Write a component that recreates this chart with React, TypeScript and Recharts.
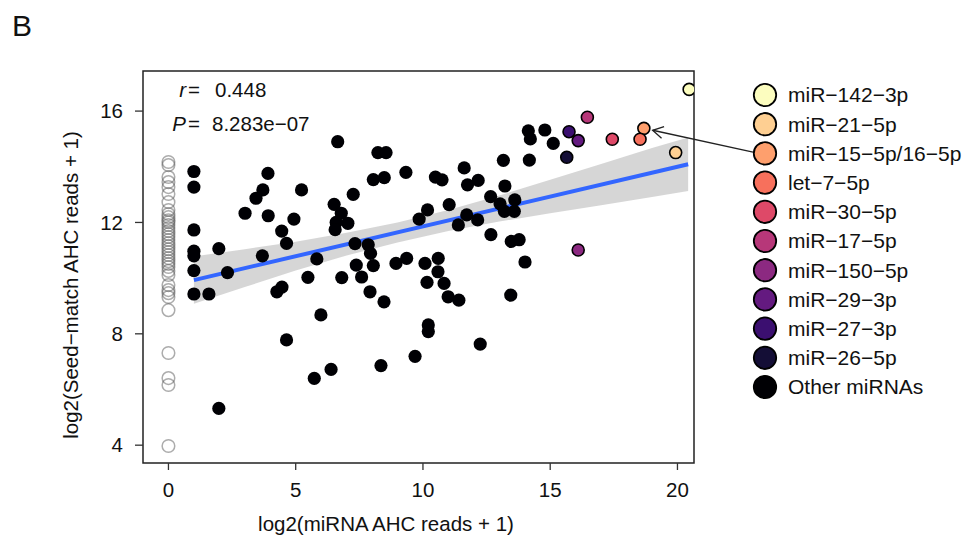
import {
  Area,
  ComposedChart,
  Line,
  ReferenceArea,
  ReferenceLine,
  Scatter,
  XAxis,
  YAxis,
} from 'recharts'

const FONT = '"Liberation Sans", Arial, Helvetica, sans-serif'

// miRNAs with no AHC reads (x = 0), drawn as hollow grey circles
const zeroReadsY = [
  14.17, 14.06, 13.63, 13.45, 13.27, 13.02, 12.73, 12.45, 12.3, 12.19, 12.08,
  12.01, 11.91, 11.8, 11.69, 11.58, 11.48, 11.37, 11.26, 11.15, 11.04, 10.94,
  10.83, 10.72, 10.61, 10.51, 10.4, 10.26, 10.11, 9.75, 9.57, 9.46, 9.32, 8.85,
  7.31, 6.41, 6.16, 3.97,
]

// other miRNAs: [log2 miRNA reads, log2 seed-match reads]
const otherMirnas: [number, number][] = [
  [1.0, 13.83], [1.0, 13.27], [1.0, 11.73], [1.0, 10.97], [1.0, 10.8],
  [1.0, 10.27], [1.0, 9.43], [1.59, 9.43], [1.98, 11.06], [2.32, 10.2],
  [1.98, 5.32], [3.91, 13.76], [3.71, 13.17], [3.44, 12.87], [3.01, 12.33],
  [3.92, 12.24], [4.93, 12.12], [4.45, 11.69], [4.64, 11.25], [3.69, 10.8],
  [4.46, 9.68], [4.26, 9.51], [4.64, 7.78], [5.23, 13.17], [6.65, 14.9],
  [8.23, 14.51], [8.55, 14.51], [8.05, 13.54], [8.48, 13.61], [9.33, 13.8],
  [7.26, 13.01], [6.51, 12.65], [6.79, 12.33], [7.05, 11.97], [6.59, 12.0],
  [6.55, 11.74], [7.33, 11.24], [7.85, 11.2], [7.94, 10.89], [9.85, 12.12],
  [10.18, 12.45], [5.83, 10.69], [5.48, 10.03], [6.81, 10.02], [7.38, 10.47],
  [7.59, 10.04], [8.05, 10.45], [7.92, 9.51], [8.47, 9.15], [8.94, 10.53],
  [9.36, 10.71], [5.99, 8.68], [5.73, 6.4], [6.39, 6.72], [8.35, 6.86],
  [9.69, 7.19], [10.08, 10.53], [10.6, 10.71], [10.59, 10.23], [10.16, 9.85],
  [10.83, 9.81], [10.99, 9.33], [11.41, 9.21], [10.21, 8.32], [10.21, 8.08],
  [12.25, 7.63], [13.45, 9.39], [14.01, 10.58], [14.14, 15.29], [14.79, 15.32],
  [14.22, 15.0], [15.12, 14.84], [13.16, 14.23], [14.18, 14.24], [11.62, 13.96],
  [10.49, 13.63], [10.75, 13.53], [12.17, 13.51], [11.75, 13.35], [13.22, 13.31],
  [12.66, 12.93], [13.03, 12.67], [13.61, 12.81], [13.2, 12.4], [13.59, 12.4],
  [11.03, 12.64], [11.72, 12.27], [12.15, 12.09], [11.39, 11.91], [12.67, 11.56],
  [13.47, 11.32], [13.78, 11.38],
]

// highlighted miRNAs (legend order)
const highlightNames = [
  'miR−142−3p',
  'miR−21−5p',
  'miR−15−5p/16−5p',
  'let−7−5p',
  'miR−30−5p',
  'miR−17−5p',
  'miR−150−5p',
  'miR−29−3p',
  'miR−27−3p',
  'miR−26−5p',
]
const highlightColors = [
  '#FCFDBF', '#FECF92', '#FE9F6D', '#F7705C', '#DE4968',
  '#B73779', '#8C2981', '#641A80', '#3B0F70', '#140E36',
]
const highlightX = [20.46, 19.93, 18.68, 18.53, 17.44, 16.46, 16.1, 16.1, 15.74, 15.65]
const highlightY = [16.78, 14.51, 15.38, 14.99, 14.99, 15.78, 11.01, 14.94, 15.26, 14.34]
const otherLabel = 'Other miRNAs'
const otherColor = '#000004'

// linear fit and its confidence band
const fitX = [1.0, 20.42]
const fitY = [9.93, 14.09]
const bandX = [1, 3, 5, 7, 9, 11, 13, 15, 17, 19, 20.42]
const bandLow = [9.08, 9.68, 10.27, 10.81, 11.28, 11.69, 12.03, 12.33, 12.62, 12.91, 13.13]
const bandHigh = [10.78, 11.04, 11.31, 11.63, 12.0, 12.45, 12.97, 13.53, 14.1, 14.67, 15.05]

const xTicks = [0, 5, 10, 15, 20]
const yTicks = [4, 8, 12, 16]
const xDomain: [number, number] = [-1.0, 20.65]
const yDomain: [number, number] = [3.36, 17.44]

const zeroData = zeroReadsY.map((y) => ({ x: 0, y }))
const otherData = otherMirnas.map(([x, y]) => ({ x, y }))
const highlightData = highlightNames.map((name, i) => ({
  name,
  x: highlightX[i],
  y: highlightY[i],
  color: highlightColors[i],
}))
const fitData = fitX.map((x, i) => ({ x, y: fitY[i] }))
const bandData = bandX.map((x, i) => ({ x, band: [bandLow[i], bandHigh[i]] }))

const arrowTarget = highlightData[2]

const hollowDot = (p: any) => (
  <circle cx={p.cx} cy={p.cy} r={6.3} fill="none" stroke="rgba(90,90,90,0.5)" strokeWidth={1.5} />
)
const blackDot = (p: any) => <circle cx={p.cx} cy={p.cy} r={6.6} fill={otherColor} />
const colorDot = (p: any) => (
  <circle cx={p.cx} cy={p.cy} r={6} fill={p.payload.color} stroke="#000" strokeWidth={1.6} />
)

function ArrowShape(p: any) {
  const { x1, y1, x2, y2 } = p
  const dx = x1 - x2
  const dy = y1 - y2
  const len = Math.hypot(dx, dy) || 1
  const ux = dx / len
  const uy = dy / len
  const tx = x1 - ux * 9
  const ty = y1 - uy * 9
  const head = 12
  const a = Math.PI / 6
  const bx = -ux
  const by = -uy
  const h1x = tx + head * (bx * Math.cos(a) - by * Math.sin(a))
  const h1y = ty + head * (bx * Math.sin(a) + by * Math.cos(a))
  const h2x = tx + head * (bx * Math.cos(-a) - by * Math.sin(-a))
  const h2y = ty + head * (bx * Math.sin(-a) + by * Math.cos(-a))
  return (
    <g stroke="#222" strokeWidth={1.3} fill="none">
      <line x1={x2} y1={y2} x2={tx} y2={ty} />
      <polyline points={`${h1x},${h1y} ${tx},${ty} ${h2x},${h2y}`} />
    </g>
  )
}

const tickStyle = { fill: '#111', fontSize: 20.5, fontFamily: FONT }

export default function App() {
  const legendItems = [
    ...highlightData.map((d) => ({ name: d.name, color: d.color })),
    { name: otherLabel, color: otherColor },
  ]

  return (
    <div style={{ position: 'absolute', left: 0, top: 0, width: 966, height: 542, background: '#fff' }}>
      <ComposedChart
        width={966}
        height={542}
        margin={{ top: 71, right: 272, bottom: 19, left: 83 }}
      >
        <XAxis
          type="number"
          dataKey="x"
          domain={xDomain}
          ticks={xTicks}
          allowDataOverflow
          axisLine={false}
          tickLine={{ stroke: '#333', strokeWidth: 1.3 }}
          tickSize={7}
          tickMargin={12}
          tick={tickStyle}
          height={60}
        />
        <YAxis
          type="number"
          domain={yDomain}
          ticks={yTicks}
          allowDataOverflow
          axisLine={false}
          tickLine={{ stroke: '#333', strokeWidth: 1.3 }}
          tickSize={8}
          tickMargin={12}
          tick={tickStyle}
          width={60}
        />
        <Scatter data={zeroData} dataKey="y" shape={hollowDot} isAnimationActive={false} />
        <Area
          data={bandData}
          dataKey="band"
          type="linear"
          stroke="none"
          fill="#999999"
          fillOpacity={0.4}
          dot={false}
          activeDot={false}
          isAnimationActive={false}
        />
        <Line
          data={fitData}
          dataKey="y"
          type="linear"
          stroke="#3366FF"
          strokeWidth={4}
          dot={false}
          activeDot={false}
          isAnimationActive={false}
        />
        <Scatter data={otherData} dataKey="y" shape={blackDot} isAnimationActive={false} />
        <Scatter data={highlightData} dataKey="y" shape={colorDot} isAnimationActive={false} />
        <ReferenceArea
          x1={xDomain[0]}
          x2={xDomain[1]}
          y1={yDomain[0]}
          y2={yDomain[1]}
          fill="none"
          stroke="#222"
          strokeWidth={1.5}
          ifOverflow="visible"
        />
        <ReferenceLine
          segment={[
            { x: arrowTarget.x, y: arrowTarget.y },
            { x: 22.97, y: 14.53 },
          ]}
          ifOverflow="visible"
          shape={ArrowShape}
        />
      </ComposedChart>

      <svg
        width={966}
        height={542}
        style={{ position: 'absolute', left: 0, top: 0, pointerEvents: 'none' }}
        fontFamily={FONT}
      >
        <text x={12} y={36} fontSize={30} fill="#111">B</text>

        <text x={186} y={97} fontSize={20.5} textAnchor="end" fontStyle="italic" fill="#111">r</text>
        <text x={188} y={97} fontSize={20.5} fill="#111">=</text>
        <text x={215} y={97} fontSize={20.5} fill="#111">0.448</text>
        <text x={186} y={131} fontSize={20.5} textAnchor="end" fontStyle="italic" fill="#111">P</text>
        <text x={188} y={131} fontSize={20.5} fill="#111">=</text>
        <text x={212} y={131} fontSize={20.5} fill="#111">8.283e−07</text>

        <text x={386} y={531} fontSize={20.5} textAnchor="middle" fill="#111">
          log2(miRNA AHC reads + 1)
        </text>
        <text
          x={0}
          y={0}
          fontSize={20.5}
          textAnchor="middle"
          fill="#111"
          transform="translate(78 285) rotate(-90)"
        >
          log2(Seed−match AHC reads + 1)
        </text>

        {legendItems.map((item, i) => {
          const cy = 95 + i * 29.2
          return (
            <g key={item.name}>
              <circle cx={765} cy={cy} r={11.2} fill={item.color} stroke="#000" strokeWidth={1.8} />
              <text x={788} y={cy + 7.3} fontSize={21} fill="#111">{item.name}</text>
            </g>
          )
        })}
      </svg>
    </div>
  )
}
